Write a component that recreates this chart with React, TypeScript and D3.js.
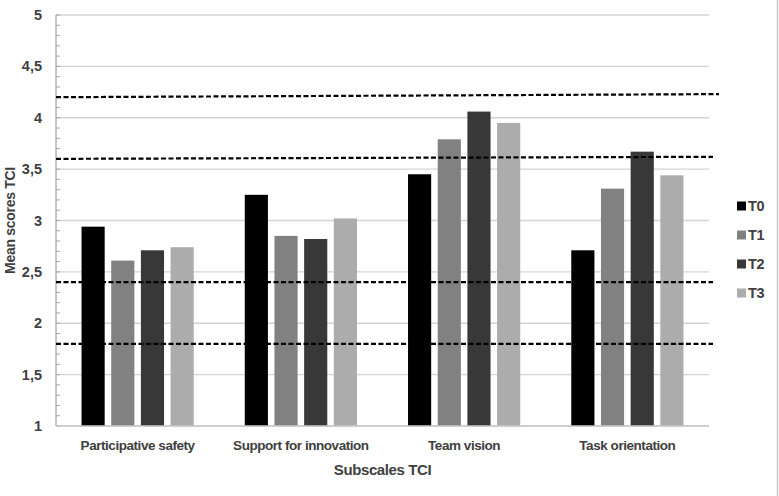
import { useRef, useEffect } from "react";
import * as d3 from "d3";

// TCI subscales and mean scores at each measurement point
const subscales = ["Participative safety", "Support for innovation", "Team vision", "Task orientation"];
const timepoints = ["T0", "T1", "T2", "T3"];
const t0 = [2.94, 3.25, 3.45, 2.71];
const t1 = [2.61, 2.85, 3.79, 3.31];
const t2 = [2.71, 2.82, 4.06, 3.67];
const t3 = [2.74, 3.02, 3.95, 3.44];
const yTicks = [1, 1.5, 2, 2.5, 3, 3.5, 4, 4.5, 5];
// reference lines (start value, end value)
const cutoffs: [number, number][] = [[4.2, 4.23], [3.6, 3.62], [2.4, 2.4], [1.8, 1.8]];

const colors = ["#000000", "#818181", "#383838", "#acacac"];

export default function App() {
    const ref = useRef<SVGSVGElement>(null);

    const chartAttr = {
        width: 779,
        height: 496,
        left: 56,
        right: 709,
        top: 15,
        bottom: 426
    };

    useEffect(() => {
        const series = [t0, t1, t2, t3];
        const data = subscales.map((s, i) => ({
            name: s,
            values: timepoints.map((t, j) => ({ key: t, value: series[j][i] }))
        }));

        const yScale = d3.scaleLinear()
            .domain([1, 5])
            .range([chartAttr.bottom, chartAttr.top]);

        const x0 = d3.scaleBand()
            .domain(subscales)
            .range([chartAttr.left, chartAttr.right])
            .padding(0);

        const x1 = d3.scaleBand()
            .domain(timepoints)
            .range([0, x0.bandwidth()])
            .paddingInner(0.22)
            .paddingOuter(0.86);

        const svg = d3.select(ref.current)
            .attr("width", chartAttr.width)
            .attr("height", chartAttr.height)
            .style("display", "block")
            .style("position", "absolute")
            .style("left", 0)
            .style("top", 0)
            .style("font-family", "'Liberation Sans', Arial, sans-serif");

        svg.selectAll("*").remove();

        svg.append("rect")
            .attr("width", chartAttr.width)
            .attr("height", chartAttr.height)
            .attr("fill", "#ffffff");

        // right frame edge
        svg.append("line")
            .attr("x1", 777.5).attr("x2", 777.5)
            .attr("y1", 0).attr("y2", chartAttr.height)
            .attr("stroke", "#c8c8c8")
            .attr("stroke-width", 1.5);

        // gridlines
        svg.append("g")
            .selectAll("line")
            .data(yTicks)
            .enter()
            .append("line")
            .attr("x1", chartAttr.left)
            .attr("x2", chartAttr.right)
            .attr("y1", d => yScale(d))
            .attr("y2", d => yScale(d))
            .attr("stroke", "#d4d4d4")
            .attr("stroke-width", 1.3);

        // y axis with minor ticks
        const minor = d3.range(1, 5.001, 0.1);
        svg.append("g")
            .selectAll("line")
            .data(minor)
            .enter()
            .append("line")
            .attr("x1", chartAttr.left)
            .attr("x2", chartAttr.left + 4)
            .attr("y1", d => yScale(d))
            .attr("y2", d => yScale(d))
            .attr("stroke", "#a6a6a6")
            .attr("stroke-width", 1);

        svg.append("line")
            .attr("x1", chartAttr.left)
            .attr("x2", chartAttr.left)
            .attr("y1", chartAttr.top)
            .attr("y2", chartAttr.bottom)
            .attr("stroke", "#a6a6a6")
            .attr("stroke-width", 1.3);

        svg.append("g")
            .selectAll("text")
            .data(yTicks)
            .enter()
            .append("text")
            .attr("x", 42)
            .attr("y", d => yScale(d))
            .attr("dy", "0.35em")
            .attr("text-anchor", "end")
            .attr("fill", "#404040")
            .attr("font-size", 14.5)
            .attr("font-weight", "bold")
            .text(d => String(d).replace(".", ","));

        // bars
        svg.append("g")
            .selectAll("g")
            .data(data)
            .enter()
            .append("g")
            .attr("transform", d => "translate(" + x0(d.name) + ",0)")
            .selectAll("rect")
            .data(d => d.values)
            .enter()
            .append("rect")
            .attr("x", d => x1(d.key)!)
            .attr("y", d => yScale(d.value))
            .attr("width", x1.bandwidth())
            .attr("height", d => chartAttr.bottom - yScale(d.value))
            .attr("fill", (d, i) => colors[i]);

        // x axis baseline
        svg.append("line")
            .attr("x1", chartAttr.left)
            .attr("x2", chartAttr.right)
            .attr("y1", chartAttr.bottom)
            .attr("y2", chartAttr.bottom)
            .attr("stroke", "#c8c8c8")
            .attr("stroke-width", 1.3);

        // dashed reference lines
        svg.append("g")
            .selectAll("line")
            .data(cutoffs)
            .enter()
            .append("line")
            .attr("x1", chartAttr.left)
            .attr("x2", (d, i) => i === 0 ? 719 : 713)
            .attr("y1", d => yScale(d[0]))
            .attr("y2", d => yScale(d[1]))
            .attr("stroke", "#000000")
            .attr("stroke-width", 2.2)
            .attr("stroke-dasharray", "5,2.5");

        // category labels
        svg.append("g")
            .selectAll("text")
            .data(subscales)
            .enter()
            .append("text")
            .attr("x", d => x0(d)! + x0.bandwidth() / 2)
            .attr("y", 445)
            .attr("dy", "0.35em")
            .attr("text-anchor", "middle")
            .attr("fill", "#404040")
            .attr("font-size", 13.5)
            .attr("font-weight", "bold")
            .attr("letter-spacing", -0.45)
            .text(d => d);

        // axis titles
        svg.append("text")
            .attr("x", (chartAttr.left + chartAttr.right) / 2)
            .attr("y", 470)
            .attr("dy", "0.35em")
            .attr("text-anchor", "middle")
            .attr("fill", "#404040")
            .attr("font-size", 15)
            .attr("font-weight", "bold")
            .attr("letter-spacing", -0.4)
            .text("Subscales TCI");

        svg.append("text")
            .attr("transform", "translate(10," + (chartAttr.top + chartAttr.bottom) / 2 + ") rotate(-90)")
            .attr("dy", "0.35em")
            .attr("text-anchor", "middle")
            .attr("fill", "#404040")
            .attr("font-size", 14)
            .attr("font-weight", "bold")
            .attr("letter-spacing", -0.3)
            .text("Mean scores TCI");

        // legend
        const legend = svg.append("g")
            .selectAll("g")
            .data(timepoints)
            .enter()
            .append("g")
            .attr("transform", (d, i) => "translate(737," + (206 + i * 29) + ")");

        legend.append("rect")
            .attr("x", 0)
            .attr("y", -4.5)
            .attr("width", 9)
            .attr("height", 9)
            .attr("fill", (d, i) => colors[i]);

        legend.append("text")
            .attr("x", 11)
            .attr("dy", "0.35em")
            .attr("fill", "#404040")
            .attr("font-size", 14.5)
            .attr("font-weight", "bold")
            .attr("letter-spacing", -0.4)
            .text(d => d);
    }, []);

    return (
        <div>
            <svg ref={ref} />
        </div>
    );
}
